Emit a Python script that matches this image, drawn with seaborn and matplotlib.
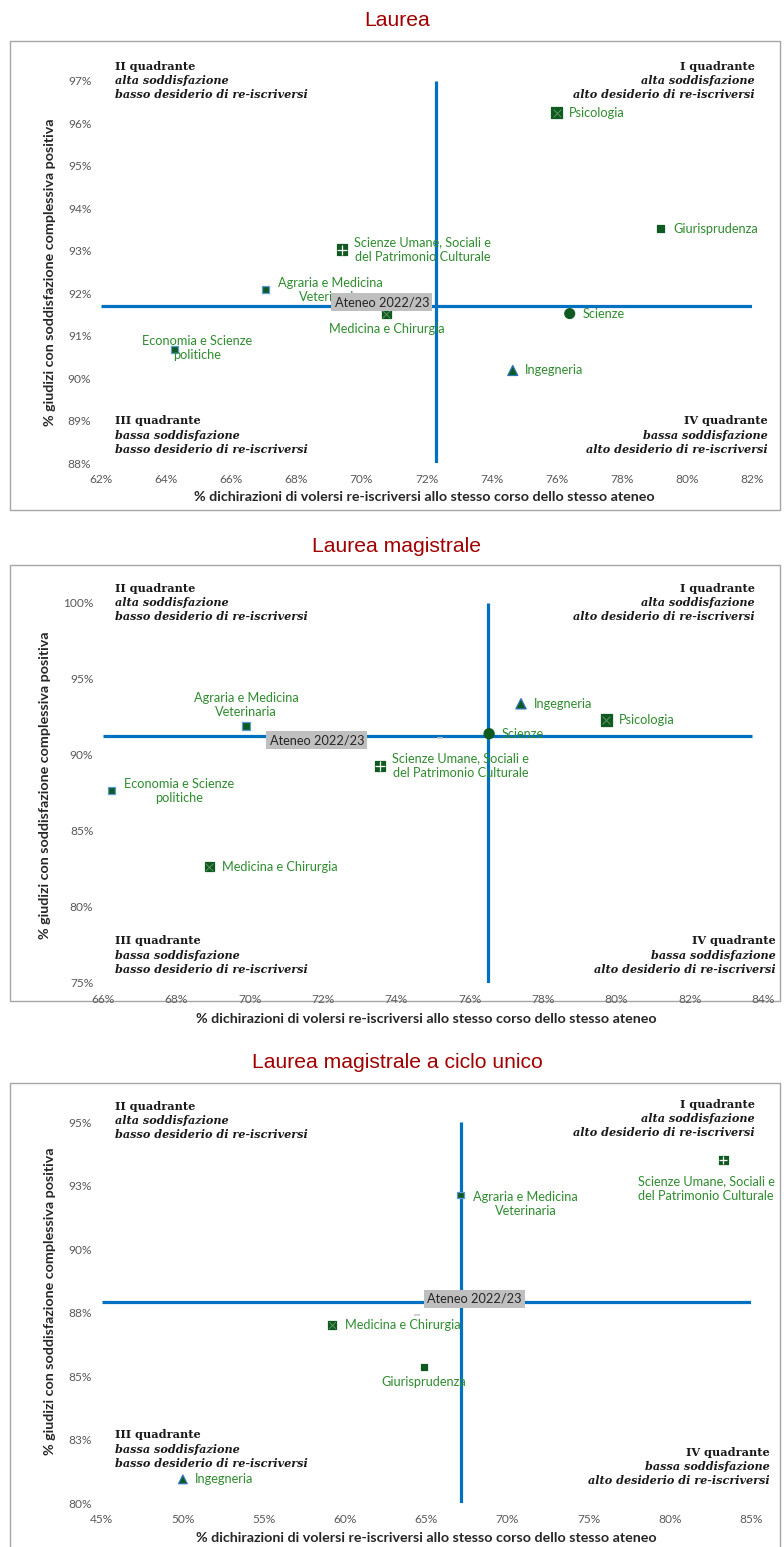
import matplotlib
matplotlib.use("Agg")
import matplotlib.pyplot as plt
import matplotlib.patches as mpatches
from matplotlib.ticker import FixedLocator, FuncFormatter
import numpy as np
import pandas as pd
import seaborn as sns

# ---- corsi (nomi dei dipartimenti) ----
PSI = "Psicologia"
GIU = "Giurisprudenza"
SUM = "Scienze Umane, Sociali e\ndel Patrimonio Culturale"
AGR = "Agraria e Medicina\nVeterinaria"
MED = "Medicina e Chirurgia"
SCI = "Scienze"
ING = "Ingegneria"
ECO = "Economia e Scienze\npolitiche"

# ---- Laurea ----
l_corsi = [PSI, GIU, SUM, AGR, MED, SCI, ING, ECO]
l_reiscr = [76.0, 79.2, 69.4, 67.05, 70.77, 76.4, 74.65, 64.27]
l_soddisf = [96.25, 93.52, 93.03, 92.08, 91.52, 91.52, 90.18, 90.68]
l_ateneo = [72.3, 91.7]
l_ateneo_punto = [70.8, 91.75]

# ---- Laurea magistrale ----
lm_corsi = [AGR, ING, PSI, SCI, SUM, ECO, MED]
lm_reiscr = [69.9, 77.4, 79.73, 76.53, 73.55, 66.23, 68.9]
lm_soddisf = [91.9, 93.37, 92.3, 91.4, 89.3, 87.65, 82.65]
lm_ateneo = [76.5, 91.27]
lm_ateneo_punto = [75.2, 91.15]

# ---- Laurea magistrale a ciclo unico ----
cu_corsi = [SUM, AGR, MED, GIU, ING]
cu_reiscr = [83.3, 67.1, 59.2, 64.83, 50.0]
cu_soddisf = [93.5, 92.13, 87.0, 85.37, 80.93]
cu_ateneo = [67.15, 87.93]
cu_ateneo_punto = [64.44, 87.4]

titoli = ["Laurea", "Laurea magistrale", "Laurea magistrale a ciclo unico"]
xlabel = "% dichirazioni di volersi re-iscriversi allo stesso corso dello stesso ateneo"
ylabel = "% giudizi con soddisfazione complessiva positiva"

# ---- stile ----
VERDE = "#0E5A20"
VERDE_TXT = "#2F8C2F"
BLU = "#0070C0"

markers = {PSI: "s", GIU: "s", SUM: "s", AGR: "s", MED: "s", SCI: "o", ING: "^", ECO: "s"}
sizes = {PSI: 62, GIU: 26, SUM: 52, AGR: 26, MED: 44, SCI: 50, ING: 52, ECO: 26}
edges = {PSI: VERDE, GIU: VERDE, SUM: VERDE, AGR: "#5B9BD5", MED: VERDE, SCI: VERDE,
         ING: "#2E75B6", ECO: "#5B9BD5"}

W, H = 784, 1547


def fx(px):
    return px / W


def fy(py):
    return 1 - py / H


def pct(v, pos):
    return f"{int(np.floor(v + 0.5))}%"


def draw_panel(ax, corsi, xs, ys, ateneo, ateneo_punto, xlim, ylim, xticks, yticks,
               hspan, placements, box_pos, scale, xl_coords, yl_coords):
    df = pd.DataFrame({"corso": corsi, "x": xs, "y": ys})
    lev = list(dict.fromkeys(corsi))

    ax.hlines(ateneo[1], hspan[0], hspan[1], color=BLU, lw=2.3, zorder=1)
    ax.vlines(ateneo[0], ylim[0], ylim[1], color=BLU, lw=2.3, zorder=1)

    sns.scatterplot(data=df, x="x", y="y", style="corso", size="corso",
                    markers={c: markers[c] for c in lev},
                    sizes={c: sizes[c] * scale for c in lev},
                    color=VERDE, edgecolor=[edges[c] for c in corsi],
                    linewidth=0.9, legend=False, ax=ax, zorder=3)

    # motivi sui marker quadrati
    sub = df[df["corso"] == SUM]
    if len(sub):
        sns.scatterplot(data=sub, x="x", y="y", marker="+", s=sizes[SUM] * scale,
                        color="white", linewidth=0.9, legend=False, ax=ax, zorder=4)
    sub = df[df["corso"].isin([MED, PSI])]
    if len(sub):
        sns.scatterplot(data=sub, x="x", y="y", marker="x", s=30 * scale,
                        color="#6E9E6E", linewidth=0.6, legend=False, ax=ax, zorder=4)

    ax.scatter(ateneo_punto[0], ateneo_punto[1], marker="_", s=20, color="#C8C8C8",
               linewidths=1.2, zorder=2)

    for c, x, y in zip(corsi, xs, ys):
        p = placements[c]
        kw = dict(fontsize=9.2, color=VERDE_TXT, multialignment="center", zorder=5)
        if p == "right":
            ax.annotate(c, (x, y), xytext=(9, 0), textcoords="offset points",
                        ha="left", va="center", **kw)
        elif p == "below":
            ax.annotate(c, (x, y), xytext=(0, -7), textcoords="offset points",
                        ha="center", va="top", **kw)
        elif p == "above":
            ax.annotate(c, (x, y), xytext=(0, 6), textcoords="offset points",
                        ha="center", va="bottom", **kw)
        else:
            ax.text(p[0], p[1], c, ha="center", va="center", **kw)

    ax.text(box_pos[0], box_pos[1], "Ateneo 2022/23", ha="center", va="center",
            fontsize=9.2, color="#262626", zorder=6,
            bbox=dict(boxstyle="square,pad=0.25", fc="#BFBFBF", ec="none"))

    ax.set_xlim(*xlim)
    ax.set_ylim(*ylim)
    ax.xaxis.set_major_locator(FixedLocator(xticks))
    ax.yaxis.set_major_locator(FixedLocator(yticks))
    ax.xaxis.set_major_formatter(FuncFormatter(pct))
    ax.yaxis.set_major_formatter(FuncFormatter(pct))
    ax.tick_params(axis="both", length=0, labelsize=8.6, colors="#595959")
    ax.tick_params(axis="x", pad=8)
    ax.tick_params(axis="y", pad=7)
    for s in ax.spines.values():
        s.set_visible(False)
    ax.grid(False)
    ax.set_facecolor("none")

    ax.set_xlabel(xlabel, fontsize=10.3, fontweight="bold", color="#262626")
    ax.set_ylabel(ylabel, fontsize=10.3, fontweight="bold", color="#262626")
    ax.xaxis.set_label_coords(*xl_coords)
    ax.xaxis.label.set_va("center")
    ax.yaxis.set_label_coords(*yl_coords)
    ax.yaxis.label.set_va("center")


sns.set_theme(style="white")
plt.rcParams["font.family"] = ["Lato", "DejaVu Sans"]

fig = plt.figure(figsize=(W / 100, H / 100), dpi=100)
fig.patch.set_facecolor("white")

# cornici
for top, bottom in [(41, 510), (565, 1001), (1083, 1560)]:
    fig.add_artist(mpatches.Rectangle((fx(10), fy(bottom)), fx(770) - fx(0), fy(top) - fy(bottom),
                                      transform=fig.transFigure, fill=False,
                                      ec="#A6A6A6", lw=1.0, zorder=0))

# titoli
for t, py in zip(titoli, [20, 546, 1063]):
    fig.text(fx(397), fy(py), t, ha="center", va="center", fontsize=15.2,
             color="#A00000", family="Liberation Sans")

ax1 = fig.add_axes([fx(101), fy(463), fx(752) - fx(101), fy(81) - fy(463)])
draw_panel(ax1, l_corsi, l_reiscr, l_soddisf, l_ateneo, l_ateneo_punto,
           (62, 82), (88, 97), np.arange(62, 82.1, 2), np.arange(88, 97.1, 1),
           (62, 82),
           {PSI: "right", GIU: "right", SUM: "right", AGR: "right", MED: "below",
            SCI: "right", ING: "right", ECO: (64.95, 90.72)},
           (70.63, 91.79), 1.0, (0.497, -0.089), (-0.078, 0.5))

ax2 = fig.add_axes([fx(103), fy(983), fx(763) - fx(103), fy(603) - fy(983)])
draw_panel(ax2, lm_corsi, lm_reiscr, lm_soddisf, lm_ateneo, lm_ateneo_punto,
           (66, 84), (75, 100), np.arange(66, 84.1, 2), np.arange(75, 100.1, 5),
           (66, 83.7),
           {AGR: "above", ING: "right", PSI: "right", SCI: "right", SUM: "right",
            ECO: "right", MED: "right"},
           (71.83, 90.98), 1.05, (0.49, -0.095), (-0.088, 0.52))

ax3 = fig.add_axes([fx(101.7), fy(1503), fx(751) - fx(101.7), fy(1122) - fy(1503)])
draw_panel(ax3, cu_corsi, cu_reiscr, cu_soddisf, cu_ateneo, cu_ateneo_punto,
           (45, 85), (80, 95), np.arange(45, 85.1, 5), np.arange(80, 95.1, 2.5),
           (45, 85),
           {SUM: (82.23, 92.38), AGR: (71.11, 91.78), MED: "right", GIU: "below",
            ING: "right"},
           (67.97, 88.04), 0.75, (0.5, -0.092), (-0.08, 0.53))

# etichette dei quadranti
Q1 = ["I quadrante", "alta soddisfazione", "alto desiderio di re-iscriversi"]
Q2 = ["II quadrante", "alta soddisfazione", "basso desiderio di re-iscriversi"]
Q3 = ["III quadrante", "bassa soddisfazione", "basso desiderio di re-iscriversi"]
Q4 = ["IV quadrante", "bassa soddisfazione", "alto desiderio di re-iscriversi"]


def quadrante(x_px, y_px, righe, ha):
    for i, r in enumerate(righe):
        fig.text(fx(x_px), fy(y_px + i * 14.3), r, ha=ha, va="center", fontsize=8.1,
                 family="DejaVu Serif", fontweight="bold",
                 fontstyle="normal" if i == 0 else "italic", color="#1A1A1A")


for (x2, y2), (x1, y1), (x3, y3), (x4, y4) in [
    ((115, 66), (755, 66), (115, 421), (768, 421)),
    ((115, 588), (755, 588), (115, 941), (776, 941)),
    ((115, 1106), (755, 1104), (115, 1435), (770, 1452)),
]:
    quadrante(x2, y2, Q2, "left")
    quadrante(x1, y1, Q1, "right")
    quadrante(x3, y3, Q3, "left")
    quadrante(x4, y4, Q4, "right")

fig.savefig("out.png", dpi=100, facecolor="white")
